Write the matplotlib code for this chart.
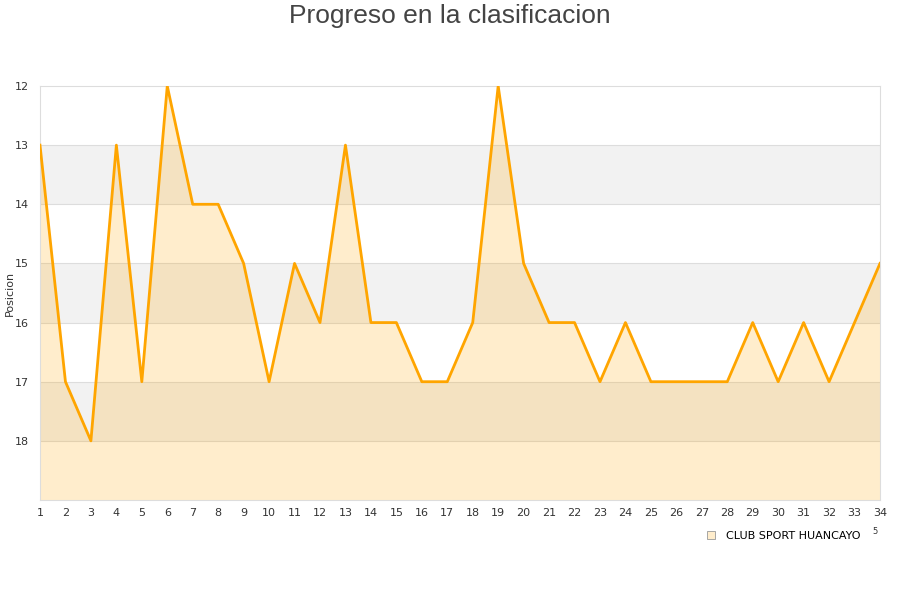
import matplotlib
matplotlib.use("Agg")
import matplotlib.pyplot as plt
from matplotlib.patches import Patch

plt.rcParams["font.family"] = ["DejaVu Sans"]

jornadas = list(range(1, 35))
posiciones = [13, 17, 18, 13, 17, 12, 14, 14, 15, 17, 15, 16, 13, 16, 16, 17, 17,
              16, 12, 15, 16, 16, 17, 16, 17, 17, 17, 17, 16, 17, 16, 17, 16, 15]
equipo = "CLUB SPORT HUANCAYO"
titulo = "Progreso en la clasificacion"
y_ticks = [12, 13, 14, 15, 16, 17, 18]

fig = plt.figure(figsize=(9, 6), dpi=100)
ax = fig.add_axes([40 / 900, 100 / 600, 840 / 900, 414 / 600])

# bandas alternas
for lo in range(12, 19):
    if lo % 2 == 1:
        ax.axhspan(lo, lo + 1, color="#f2f2f2", zorder=0, lw=0)
for v in range(13, 19):
    ax.axhline(v, color="#dddddd", lw=0.8, zorder=1)

ax.fill_between(jornadas, posiciones, 19, color="#ffa500", alpha=0.2, lw=0, zorder=2)
ax.plot(jornadas, posiciones, color="#ffa500", lw=2, zorder=3)

ax.set_xlim(1, 34)
ax.set_ylim(19, 12)
ax.set_xticks(jornadas)
ax.set_yticks(y_ticks)
ax.tick_params(axis="both", length=0, labelsize=8, colors="#333333")
ax.tick_params(axis="x", pad=6)
ax.tick_params(axis="y", pad=8)
for s in ax.spines.values():
    s.set_color("#dddddd")
    s.set_linewidth(0.8)
fig.text(10 / 900, 1 - 293 / 600, "Posicion", rotation=90, ha="center", va="center",
         fontsize=8, color="#333333")

fig.text(0.5, 1 - 16 / 600, titulo, ha="center", va="center", fontsize=19,
         color="#444444", family=["Liberation Sans", "DejaVu Sans"])

handle = Patch(facecolor="#ffedcc", edgecolor="#999999", lw=0.6)
fig.legend([handle], [equipo], loc="center", bbox_to_anchor=(784 / 900, 1 - 536 / 600),
           frameon=False, fontsize=8, handlelength=0.7, handleheight=0.7, handletextpad=1.0)
fig.text(875 / 900, 1 - 532 / 600, "5", ha="center", va="center", fontsize=6, color="#333333")

fig.savefig("out.png", dpi=100)
